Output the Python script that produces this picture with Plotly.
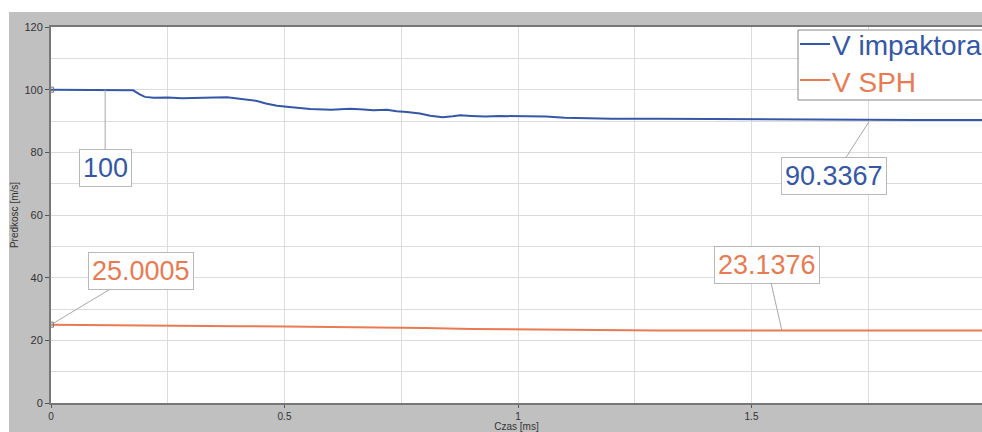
import plotly.graph_objects as go

# Czas [ms] / prędkość [m/s] – impaktor
t_imp = [0.0, 0.05, 0.10, 0.15, 0.176, 0.19, 0.201, 0.22, 0.25, 0.28, 0.32, 0.35,
         0.377, 0.40, 0.42, 0.441, 0.46, 0.484, 0.51, 0.555, 0.60, 0.64, 0.67, 0.69,
         0.719, 0.74, 0.762, 0.79, 0.812, 0.839, 0.86, 0.876, 0.90, 0.93, 0.961, 1.0,
         1.03, 1.06, 1.10, 1.14, 1.17, 1.2, 1.3, 1.4, 1.5, 1.6, 1.754, 1.85, 1.95, 2.0]
v_imp = [100.0, 100.0, 100.0, 99.9, 99.8, 98.5, 97.7, 97.4, 97.5, 97.3, 97.3, 97.5,
         97.6, 97.2, 96.8, 96.4, 95.6, 94.9, 94.5, 93.8, 93.6, 93.9, 93.7, 93.4,
         93.6, 93.1, 92.9, 92.4, 91.7, 91.2, 91.5, 91.8, 91.6, 91.4, 91.6, 91.5,
         91.3, 91.4, 91.0, 90.9, 90.8, 90.7, 90.7, 90.6, 90.5, 90.45, 90.3367, 90.35, 90.33, 90.33]

# SPH
t_sph = [0.0, 0.14, 0.2, 0.4, 0.5, 0.6, 0.7, 0.8, 0.9, 1.0, 1.1, 1.17, 1.3, 1.565, 2.0]
v_sph = [25.0005, 24.9, 24.7, 24.5, 24.4, 24.3, 24.1, 23.9, 23.6, 23.5, 23.4, 23.2,
         23.15, 23.1376, 23.1]

series_names = ["V impaktora", "V SPH"]

# Etykiety wartości: (czas, wartość, przesunięcie ramki w px)
lab_imp = [(0.116, 100.0, 0, 78), (1.754, 90.3367, -36, 56)]
lab_sph = [(0.0, 25.0005, 90, -54), (1.565, 23.1376, -15, -66)]

BLUE = "#3557A7"
ORANGE = "#E97B52"
FONT = "Liberation Sans, Arial, sans-serif"

W, H = 982, 432
ML, MR, MT, MB = 51, 0, 27, 29
PW, PH = W - ML - MR, H - MT - MB


def px_x(p):
    return (p - ML) / PW


def px_y(p):
    return (H - MB - p) / PH


fig = go.Figure()
fig.add_trace(go.Scatter(x=t_imp, y=v_imp, mode="lines", name=series_names[0],
                         showlegend=False, line=dict(color=BLUE, width=2)))
fig.add_trace(go.Scatter(x=t_sph, y=v_sph, mode="lines", name=series_names[1],
                         showlegend=False, line=dict(color=ORANGE, width=2)))
# znaczniki punktów początkowych
fig.add_trace(go.Scatter(x=[t_imp[0], t_sph[0]], y=[v_imp[0], v_sph[0]], mode="markers",
                         showlegend=False,
                         marker=dict(symbol="square-open", size=5, color="#777777",
                                     line=dict(width=1))))


def label(t, v, ax, ay, color):
    fig.add_annotation(x=t, y=v, text=f"{v:g}", showarrow=True, arrowhead=0,
                       arrowwidth=1, arrowcolor="#A8A8A8", ax=ax, ay=ay,
                       font=dict(family=FONT, size=27, color=color),
                       bgcolor="white", bordercolor="#B8B8B8", borderwidth=1,
                       borderpad=3)


for t, v, ax, ay in lab_imp:
    label(t, v, ax, ay, BLUE)
for t, v, ax, ay in lab_sph:
    label(t, v, ax, ay, ORANGE)

# legenda w ramce (prawy górny róg)
fig.add_shape(type="rect", xref="paper", yref="paper", x0=px_x(798), x1=px_x(995),
              y0=px_y(100), y1=px_y(30), fillcolor="white",
              line=dict(color="#888888", width=1), layer="above")
for name, color, yc in [(series_names[0], BLUE, 44), (series_names[1], ORANGE, 80)]:
    fig.add_shape(type="line", xref="paper", yref="paper", x0=px_x(800), x1=px_x(830),
                  y0=px_y(yc), y1=px_y(yc), line=dict(color=color, width=2), layer="above")
    fig.add_annotation(xref="paper", yref="paper", x=px_x(830), y=px_y(yc + 2),
                       xanchor="left", yanchor="middle", showarrow=False, text=name,
                       font=dict(family=FONT, size=28, color=color))

# białe pasy wokół szarego panelu
fig.add_shape(type="rect", xref="paper", yref="paper", x0=px_x(-5), x1=px_x(9),
              y0=px_y(440), y1=px_y(-5), fillcolor="white", line=dict(width=0), layer="above")
fig.add_shape(type="rect", xref="paper", yref="paper", x0=px_x(-5), x1=px_x(990),
              y0=px_y(12), y1=px_y(-5), fillcolor="white", line=dict(width=0), layer="above")

grid = "#DCDCDC"
fig.update_layout(
    width=W, height=H,
    margin=dict(l=ML, r=MR, t=MT, b=MB, autoexpand=False),
    paper_bgcolor="#C0C0C0",
    plot_bgcolor="white",
    showlegend=False,
    font=dict(family=FONT, color="#333333"),
    xaxis=dict(range=[0, (W - ML) / 467], dtick=0.5, tick0=0, showgrid=True, gridcolor=grid,
               minor=dict(dtick=0.25, showgrid=True, gridcolor=grid),
               ticks="outside", ticklen=3, tickcolor="#555555",
               showline=True, linecolor="#777777", linewidth=2, mirror=True,
               zeroline=False, tickfont=dict(size=10),
               title=dict(text="Czas [ms]", font=dict(size=10), standoff=4)),
    yaxis=dict(range=[0, 120], dtick=20, showgrid=True, gridcolor=grid,
               minor=dict(dtick=10, showgrid=True, gridcolor=grid),
               ticks="outside", ticklen=4, tickcolor="#555555",
               showline=True, linecolor="#777777", linewidth=2, mirror=True,
               zeroline=False, tickfont=dict(size=11),
               title=dict(text="Predkosc [m/s]", font=dict(size=10), standoff=4)),
)

fig.write_html("out.html")
